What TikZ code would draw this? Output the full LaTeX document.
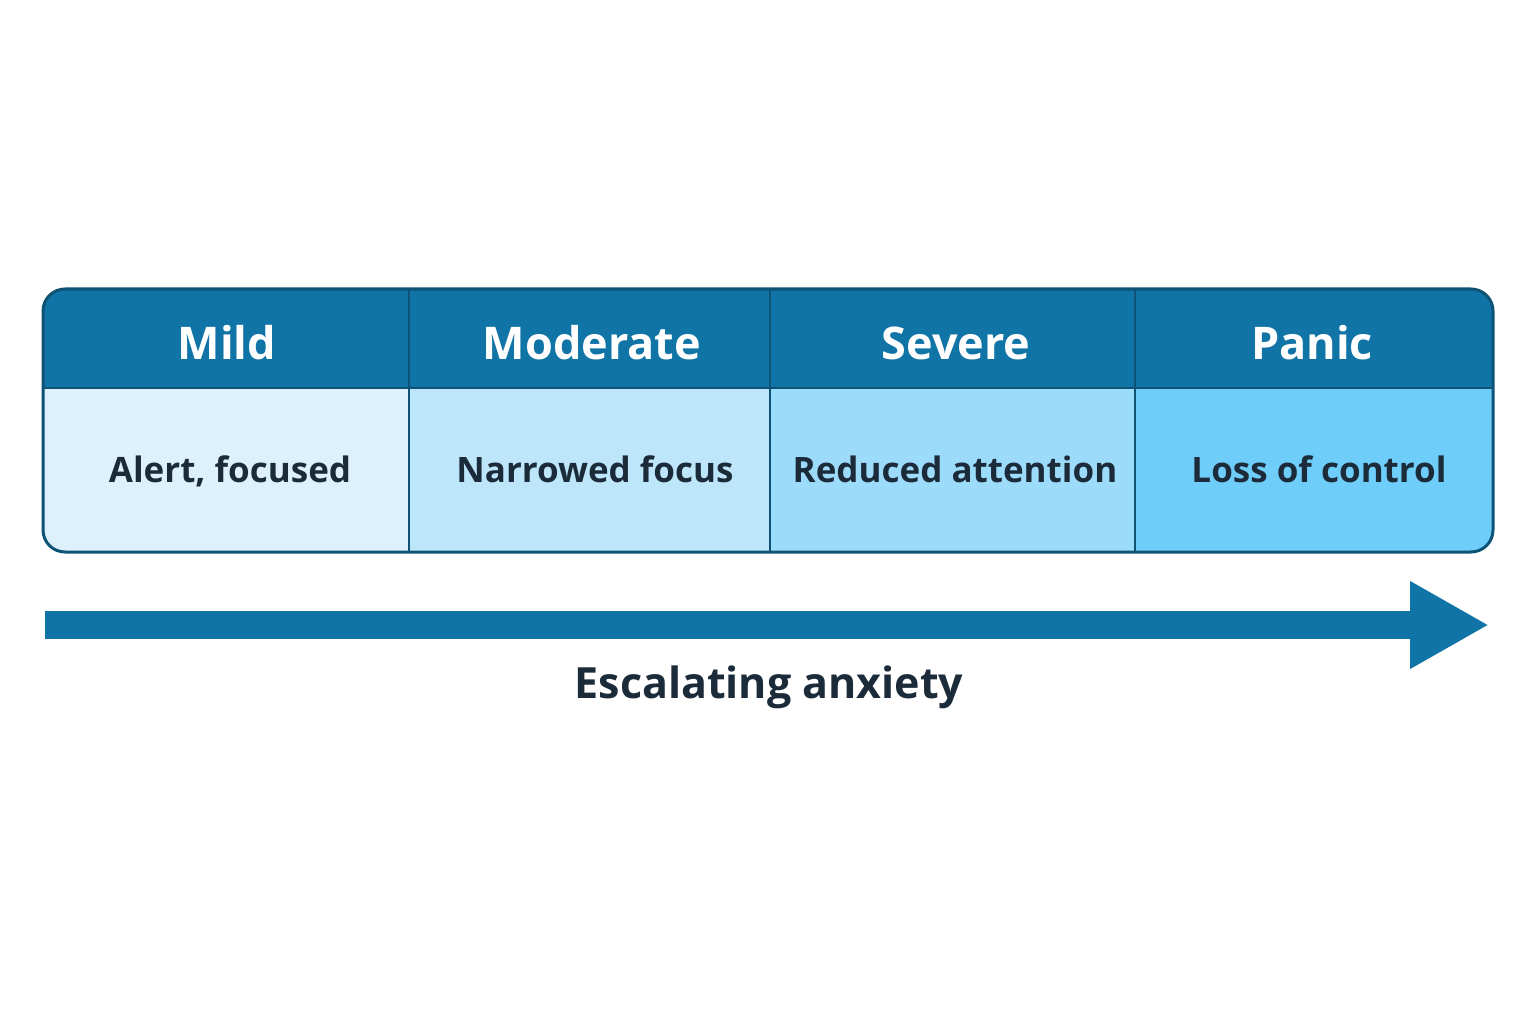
\documentclass[tikz,border=0pt]{standalone}
\usepackage{fontspec}
\setmainfont{Open Sans}
\usetikzlibrary{arrows.meta}
\definecolor{hdr}{HTML}{1074A6}
\definecolor{brd}{HTML}{0E5275}
\definecolor{cA}{HTML}{DCF1FC}
\definecolor{cB}{HTML}{BDE6FB}
\definecolor{cC}{HTML}{9DDBFB}
\definecolor{cD}{HTML}{6FCDFA}
\definecolor{ink}{HTML}{1C2B3A}
\begin{document}
\begin{tikzpicture}[x=1pt,y=-1pt,
  hdrtext/.style={anchor=base,text=white,font=\fontsize{45}{48}\selectfont\bfseries},
  bodytext/.style={anchor=base,text=ink,font=\fontsize{35}{40}\selectfont\bfseries},
  captext/.style={anchor=base,text=ink,font=\fontsize{43}{48}\selectfont\bfseries}]
\useasboundingbox[fill=white] (0,0) rectangle (1536,1024);
\begin{scope}
\clip[rounded corners=22pt] (43,289) rectangle (1493,552);
\fill[hdr] (43,289) rectangle (1493,388);
\fill[cA] (43,388) rectangle (409,552);
\fill[cB] (409,388) rectangle (770,552);
\fill[cC] (770,388) rectangle (1135,552);
\fill[cD] (1135,388) rectangle (1493,552);
\end{scope}
\draw[brd,line width=1.2pt] (43,388) -- (1493,388);
\foreach \xx in {409,770,1135} \draw[brd,line width=2pt] (\xx,289) -- (\xx,552);
\draw[brd,line width=3pt,rounded corners=22pt] (43,289) rectangle (1493,552);
\node[hdrtext] (h1) at (227,359) {Mild};
\node[hdrtext] (h2) at (592,359) {Moderate};
\node[hdrtext] (h3) at (956,359) {Severe};
\node[hdrtext] (h4) at (1312,359) {Panic};
\node[bodytext] (b1) at (230,482) {Alert, focused};
\node[bodytext] (b2) at (595,482) {Narrowed focus};
\node[bodytext] (b3) at (955,482) {Reduced attention};
\node[bodytext] (b4) at (1319,482) {Loss of control};
\coordinate (as) at (45,625);
\coordinate (ae) at (1489,625);
\draw[hdr,line width=28pt,-{Triangle[length=79pt,width=82pt]}] (as) -- (ae);
\node[captext] (cap) at (769,698) {Escalating anxiety};
\end{tikzpicture}
\end{document}
